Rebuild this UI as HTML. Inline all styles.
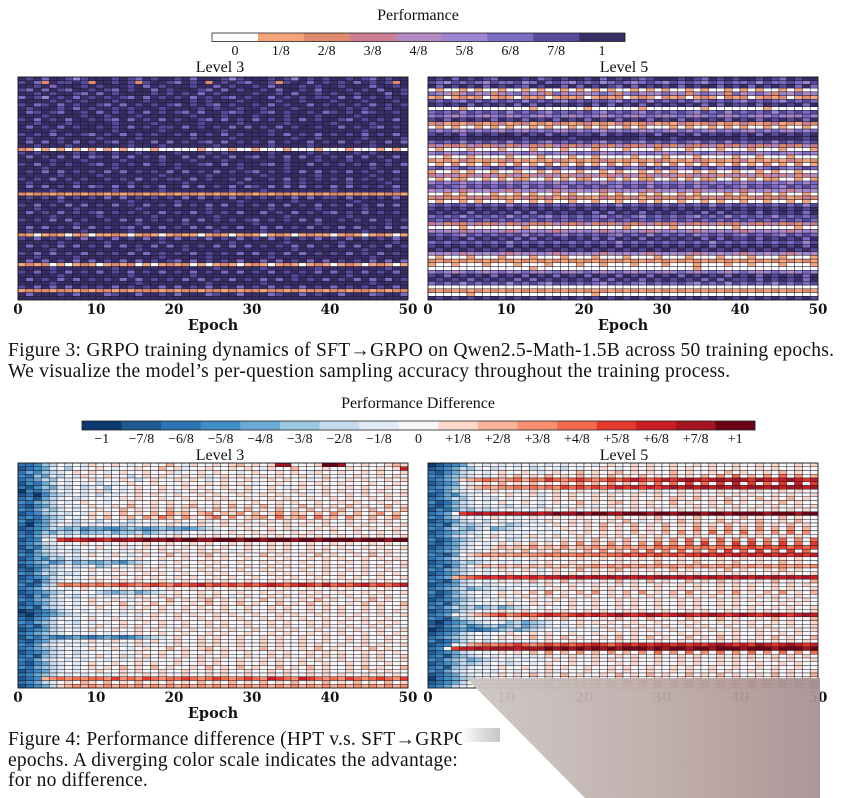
<!DOCTYPE html>
<html><head><meta charset="utf-8">
<style>
html,body{margin:0;padding:0;background:#fff;}
#wrap{position:relative;width:844px;height:798px;overflow:hidden;background:#fff;}
svg{position:absolute;left:0;top:0;}
.cap{position:absolute;left:8px;font-family:"Liberation Serif","DejaVu Serif",serif;font-size:19.5px;letter-spacing:0.25px;color:#111;white-space:nowrap;}
</style></head>
<body>
<div id="wrap">
<svg id="chart" width="844" height="798"></svg>
<div class="cap" style="top:340px">Figure 3: GRPO training dynamics of SFT→GRPO on Qwen2.5-Math-1.5B across 50 training epochs.</div>
<div class="cap" style="top:361px">We visualize the model’s per-question sampling accuracy throughout the training process.</div>
<div class="cap" style="top:729px">Figure 4: Performance difference (HPT v.s. SFT→GRPO</div>
<div class="cap" style="top:750px">epochs. A diverging color scale indicates the advantage:</div>
<div class="cap" style="top:770px">for no difference.</div>
<svg width="844" height="798">
<defs><linearGradient id="wm" x1="0" x2="1" y1="0" y2="0">
<stop offset="0" stop-color="#cdc7c4"/><stop offset="0.5" stop-color="#bfaeab"/><stop offset="0.8" stop-color="#b39c9b"/><stop offset="1" stop-color="#a89395"/></linearGradient>
<linearGradient id="sm" x1="0" x2="1" y1="0" y2="0"><stop offset="0" stop-color="#ffffff" stop-opacity="1"/><stop offset="1" stop-color="#9a9a9a" stop-opacity="0.8"/></linearGradient></defs>
<rect x="462" y="720" width="40" height="30" fill="#fff"/>
<rect x="462" y="728" width="38" height="14" fill="url(#sm)" opacity="0.7"/>
<polygon points="466,678 820,678 820,798 585,798 478,690" fill="url(#wm)" opacity="0.95"/>
</svg>
</div>
<script>
const perfTicks = ["0","1/8","2/8","3/8","4/8","5/8","6/8","7/8","1"];
const perfColors = ["#ffffff","#f4a67a","#e08a6e","#cb7e93","#b48ac2","#9c86d2","#7b6bc2","#564a9b","#392d67"];
const diffTicks = ["\u22121","\u22127/8","\u22126/8","\u22125/8","\u22124/8","\u22123/8","\u22122/8","\u22121/8","0","+1/8","+2/8","+3/8","+4/8","+5/8","+6/8","+7/8","+1"];
const diffColors = ["#0a3a6e","#1e5a91","#2d75b5","#3f8ec5","#6aaad5","#9bc8e1","#c5dcef","#e0ebf6","#f8f8f8","#fcd9cb","#f9b49a","#f8906f","#f36a4d","#e6392d","#c91c23","#a31420","#6a0013"];
const epochTicks = [0,10,20,30,40,50];
const nEpochs = 50;

const perfL3 = [
"8786887578 8878768788 7868887578 8878758787 8878768788","7862877872 8878727887 6878287876 8872788687 8786878728","8878688878 7888786878 8878868788 7868887878 8788868878","7686876887 8768788687 8887686878 8786887868 8878786887","8878788768 6878888787 8786878888 7887868878 7887888687","6875878687 8787686878 7868787687 8868787877 8686878788","8888787878 8878887888 8878788878 8887887888 7888788878","7867868788 7686878787 6878768788 7868788687 8787868787","8788878687 8878788878 8887878878 8788878888 8878788788","8678768878 6878786878 7686887678 8768788786 7878678878",
"8887888878 8788878888 8878887888 7888788878 8887888888","7868786887 8768687868 7887686878 6878786878 8768787868","8878887888 8878888788 8887888878 8888788888 7888878888","8687868788 7878687877 8687878686 8786878878 8687876878","8888788888 8878888878 8888887888 8878888888 8888788888","7878687876 8786878788 7868786878 8878687868 7878687868","8788878888 7888878888 8878888788 8888878878 8888788887","8686878687 8768788686 8787686878 7868788687 8687878686","8878887888 8888788878 8888878888 8878888788 8888878888","2101010101 0101000100 0001000100 1000100010 0010001010",
"7878888787 8878878888 7888787888 8878888787 8887878888","8687868686 7868687868 8686878687 6878686878 7868687868","8888788878 8887888878 8878887888 8888788878 8878888788","7868787887 6878786878 7887686878 8768788687 8787868786","8887888888 8878888888 7888888878 8888788888 8888878888","8786868787 8686878786 8687868787 6878786868 7868787868","8888878888 7888888878 8888788888 8788888878 8888878888","7878687878 8787868787 7868788786 8878687878 7868787878","8788888788 8888788888 8788888878 8888787888 8878888788","8686878686 7868687868 8686878686 7868686878 6868787868",
"8888788888 8878888878 8888888788 8788888888 7888888878","2122121212 2121221212 1221212122 1212212121 2212121221","8787868787 8686878787 8686878687 8787868687 7868787868","8888878888 8888788888 7888888878 8888878888 8887888888","7868786868 7868786878 6878686878 7868687868 7868786868","8878888788 8888878888 8888788888 8878888878 8888788888","8687868787 6878787868 7868787868 8687868787 6878687878","8888788888 7888888788 8888878888 8888788888 8878888888","7878686878 8786868787 8686878787 6878786868 8787868787","8888888788 8888878888 8788888888 7888888878 8888888788",
"8686878686 8787686868 7868687868 8686878687 8686878686","8788888878 8888788888 8888878888 8788888888 8888788888","2101210120 1121012101 2110121012 1012101211 0121012101","7868787868 7868786878 6878687868 7868787868 7868787868","8888878888 8788888878 8888888788 8888788888 8788888878","8687868687 8686878686 8787868686 8787868687 8686878687","8888788888 8888878888 8788888888 8888878888 8888788888","7868687868 7878686878 7868787868 6878686878 7868786878","8878888788 8888888878 8888788888 8878888888 8888878888","8686878686 8786868787 6868787868 8686878686 8787868686",
"1212010121 0121201012 1201012101 2101210121 0121012101","8888788888 8878888888 8888878888 8788888878 8888888788","7868786878 6878687868 7868786868 7868787868 6878687868","8888878888 8888788888 8878888888 8888878888 8878888888","8687868687 8786868787 8686878687 8686878786 8786868687","8888788888 8888878888 8888788888 8788888888 8888878888","7868686878 7868787868 6878687868 7868786878 6878787868","1222122121 2212122212 1221221212 2122121221 2212212122","8688878688 8678868878 6888678868 8867886878 8688867886","8888888888 8888888888 8888888888 8888888888 8888888888"];

const perfL5 = [
"8786878768 8878678788 7868787678 8878768787 8878768788","7657676576 6756867657 6756765676 5767657676 6757667657","8687878687 8768788686 8787686878 7868788687 8687878686","0100101001 0010100101 0101001010 1001010010 1010010100","6542464524 5645426454 4564256454 6452465426 4564254645","1201212012 1021201212 0121201210 2120121021 2012120121","7676576767 6757676576 7676576757 6767567676 5767657676","8787868787 8686878787 8686878687 8787868687 7868787868","0000100000 0001000000 1000000100 0000010000 0001000000","6767576767 5767657676 7657676576 7676576757 6767576767",
"5654565456 4565456545 6545654565 4565456545 6545654565","7868787868 7868786878 6878687868 7868787868 7868787868","2312132123 1231213212 3121321231 2132123121 3212312132","0101001010 1001010010 1010010100 0101001010 1001010010","6565465654 6546565465 6546565456 5465654656 5465654656","7878687878 8787868787 7868788786 8878687878 7868787878","8888788888 8878888878 8888888788 8788888888 7888888878","6767576767 5767657676 7657676576 7676576757 6767576767","3423243234 2342324323 4232432342 3243234232 4323423243","0100010001 0001000100 0100010001 0001000100 0100010001",
"5645654565 4564565456 5645654565 4564565456 5645654565","0010010000 1000100010 0100001000 1000100001 0010001000","2121321212 3121213212 1232121213 2121321212 3121213212","0102010201 0201020102 0102010201 0201020102 0102010201","6756765676 7656767567 6756765676 7656767567 6756765676","1001010010 0100101001 0010100101 0100101001 0010100100","3434234342 3423434234 3423434234 3423434234 3423434234","0101100101 0110010101 1001010110 0101011001 0101100101","5656465656 4656564656 5646565646 5656465656 4656564656","7676576767 6757676576 7676576757 6767567676 5767657676",
"4545345454 3454543454 5434545434 5454345454 3454543454","0010100010 0101001010 0010100101 0010100010 1001010010","2322132322 1232231232 2132223123 2232132322 1232231232","0100101000 1001010010 0100100101 0010010100 1001001010","6767676767 5767676767 6767576767 6767675767 6767676757","7878787878 7878787878 7878787878 7878787878 7878787878","8787868787 8686878787 8686878687 8787868687 7868787868","6767576767 5767657676 7657676576 7676576757 6767576767","7676767676 7676767676 7676767676 7676767676 7676767676","3423243234 2342324323 4232432342 3243234232 4323423243",
"0000100000 0010000000 0000010000 0100000001 0000000100","4545345454 3454543454 5434545434 5454345454 3454543454","7676576767 6757676576 7676576757 6767567676 5767657676","8787868787 8686878787 8686878687 8787868687 7868787868","6767676767 5767676767 6767576767 6767675767 6767676757","7878787878 6878787878 7878687878 7878786878 7878787868","8787878787 8787878787 8787878787 8787878787 8787878787","4545345454 3454543454 5434545434 5454345454 3454543454","0100010001 0001000100 0100010001 0001000100 0100010001","2121212121 2121212121 2121212121 2121212121 2121212121",
"1001000100 0100010001 0010001000 1000100010 0100010001","0000000000 0001000000 0000000000 0000100000 0000000000","5654565456 4565456545 6545654565 4565456545 6545654565","7868787868 7868786878 6878687868 7868787868 7868787868","8787868787 8686878787 8686878687 8787868687 7868787868","6767576767 5767657676 7657676576 7676576757 6767576767","0000000000 0000000000 0000000000 0000000000 0000000000","2121212121 2121212121 2121212121 2121212121 2121212121","0000010000 0000000000 0100000000 0000000000 0000000000","8787878787 8787878787 8787878787 8787878787 8787878787"];

const diffL3 = [
"CCDFG0H0H1 0010H01002 0H10010120 1017700018 8700100121","BCDEH0F0H0 10H0010020 1H00100101 0H10020001 0010001016","CEDFGH0101 0H01001001 H0010100H0 1001010H10 0100101001","DCFEHG0H10 0100G01010 0101H01010 0101001001 0H01001010","CDEGF0H001 H0010G0100 1010H01001 0010100H01 0010100101","BDCEG0H0H0 G0H0100100 0100101010 H001001010 0100010010","CBDFEHG0GH 0F0H010010 0101001001 0010H01001 0010100100","ADCEG0H0H0 1G0H010010 H010100101 0010010H01 0100101001","BCADFGH0H0 G0H0010100 1001010010 0101001001 0010100101","CDBEGH0GH0 0H01010010 0100101001 0010100100 1010010100",
"DCEFG0H010 0H00100101 0010010100 1001010010 0101001010","CBDEGH0H01 0010200101 0120010201 0201002010 1020100201","DCEGFH0H00 1002010102 0101020102 0102010201 0201020102","BCDFGHG0H1 0102010203 1202302130 2013021020 3102013020","CDCEFG0H01 0201203142 0310240301 2304123041 2031020130","DBCEGH0GH0 G0H0GH0H00 1001H01001 0010100101 0010010100","CADEG0HG0H 0H0GH00H01 0H01001010 0100101001 0010100101","BCDEGFEFDE EDDEFEDEFE EDEFGH0H01 00101H0010 1001010010","CBDFEGFGEF FGEFFGEFGH GH0H0H0100 1010010100 1001001010","DCEGH0H0H0 0H0H01H000 1001010010 0101001010 0100101001",
"BCD0H56567 6577678778 7887788878 8788878878 8887888788","CDEGH0H010 0H01001001 0010100101 0010100100 1010010100","BDCFGH0H00 1001H01010 0101001001 0010100101 0100101001","CBEGH0HG0H 0H0H010010 1001010H01 0010100101 0010010100","DCEFGH0H01 0010H01002 0101201010 0201001020 1001020100","BCEDGFHGH0 0H0H010010 0100101001 0010100101 0100101010","CDEFDEGEFE EFEDFGH0H0 1001010010 0101001001 0010100101","BCDEGH0GH0 FG0H010010 0100101001 0010100101 0100101001","CBDFGH0H01 0010010100 1001010010 0101001001 0010100100","DCEGFHGH0H 0H01001010 0100101001 0010100101 0100101010",
"BCDEGH0H01 0010010100 1010010100 1001010010 0101001001","CDBEGH0H00 1001010010 0100101001 0010100101 0010010100","DBCFG34343 4345434543 5456454545 4565456546 4545645456","CDEGH0H010 0H01001001 0010100101 0010100100 1010010100","BCDEFG0H00 GFEFGEFGH0 1001010010 0101001010 0100101001","CBEDG0HG0H 0H0H010010 1001010H01 0010100101 0010010100","DCEFGH0H01 0010H01002 0101201010 0201001020 1001020100","BCDEGH0H01 0102010201 0010201020 1002010201 0010201002","CDBFGH0H00 1001H01010 0101001001 0010100101 0100101001","ABCDEGH0H0 0H0H010010 0100101001 0010100101 0100101010",
"BACDEFGH0H 0H0H0H0100 1010010100 1001010010 0101001001","CBDEGH0H01 0010010100 1001010010 0101001001 0010100100","DCEFG0HG0H 0H01001010 0100101001 0010100101 0100101010","CDBEGH0H00 1001010010 0100101001 0010100101 0010010100","BCDEGH0H01 0010010100 1010010100 1001010010 0101001001","CDEFGH0H0H 0H0H010010 0100101001 0010100101 0100101010","BDCEDCDEDC DEDCDEFGH0 1001010010 0101001001 0010100101","CBDEGH0H01 0010010100 1001010010 0101001001 0010100100","DCEGH0H0H0 0H0H01H000 1001010010 0101001010 0100101001","CDEFGH0H01 0010H01002 0101201010 0201001020 1001020100",
"BCDEGH0GH0 0H0H010010 0100101001 0010100101 0100101010","CDBFGH0H00 1001H01010 0101001001 0010100101 0100101001","DCEGH0H0H0 0H0H01H000 1001010010 0101001010 0100101001","CBDEGH0H01 0010010100 1001010010 0101001001 0010100100","DCEFGH0H01 0102010201 0010201020 1002010201 0010201002","BCDEGH0H00 1001010010 0100101001 0010100101 0010010100","CDEFG0H0H0 0H01001010 0100101001 0010100101 0100101010","BCD2343434 4353435434 4543454345 4365436543 4354345435","CDEGH01021 0201020102 0102010201 0201020102 0102010201","BCDEG12323 2323232323 2323232323 2323232323 2323232323"];

const diffL5 = [
"ABCDEH0H0H 0H0H0H0H00 0H01001010 0100101001 0010100101","BCDEGFH0GH 0H0GH0HG0H 0010H01010 0101001001 0010100100","CBDEGH0H01 0010H01002 0101201010 0201001020 1001020100","DCEFGH0H01 0201020102 0102010201 0201020304 0203040302","CDEF123432 3424354345 4345456545 6567656767 6576567656","BCDE0H0102 0102010203 0203020304 0405040506 0504050605","CDEFH12323 3434343545 4545656565 6767676767 6776767767","DCEGH0H010 0H01001001 0010100101 0010100100 1010010100","BCEDGH0H00 1001H01010 0101001001 0010100101 0100101001","CDEGFH0HG0 H0H0H01010 0101001001 0210201020 1020102010",
"DBCEGH0H01 0010H01002 0101201010 0201001020 1001020100","CBDFGH0H0H G0H0G00H01 0H01001010 0100101001 0010100101","BDCEGFHGH0 0H0H010010 0100101001 0010100101 0100101010","CDE0567676 7677678778 7887788878 8788878878 8887888788","DCEGH0H010 0H01001001 0010200102 0010200100 2010020100","BCDEGH0G0H 0H0H010010 1001020H01 0020100201 0020010200","CDBFGFGH0H FGH0H01010 1020102010 2010201020 1020102010","DCEGFEGHEF GH0H0H0100 1020102010 2010302030 2030203020","BCDEFGH0H0 H0H0H0H010 1010102010 2030204030 4020304030","CDEGH0H010 0H01001001 0010100101 0010100100 1010010100",
"DBCEFGH0H0 GH0H0H0101 0201020102 0304030403 0403040304","CBDEGH0H01 0102010203 0203020304 0304050405 0504050405","BCDEGH0H12 1213121312 2323232324 3434343435 4545454545","CDEFH0H010 1020102010 2030203040 3040304050 4050405040","DCBE012323 2323343434 3434454545 4545565656 5656565656","CDEGH0H010 0H01001001 0010100101 0010100100 1010010100","BCDEGFGH0H 0H0H010010 0100101002 0010200102 0010020100","CDBEG01212 1212121212 2323232323 2323232323 2323232323","DCEFGH0H01 0010H01002 0101201010 0201001020 1001020100","BCDEGH0H00 1001H01010 0101001001 0010100101 0100101001",
"CDE2345656 5656566767 6767676767 7676767676 7676767676","DCBEGH0H01 0102010201 0010201020 1002010201 0010201002","BCDEGH0GH0 0H0H010010 0100101001 0010100101 0100101010","CDEFGEFGHG H0H0H01010 0101001001 0010100101 0100101001","DBCEGH0H01 0102030102 0301020301 0203010203 0102030102","CBDFGH0H01 0010010100 1001010010 0101001001 0010100100","BCDEFGH0H0 0H01001010 0100101001 0010100101 0100101010","CDBEGH0H00 1001010010 0100101001 0010100101 0010010100","DCEGFGEFGE FGH0H0H010 0100101001 0010100101 0100101001","BCDEGH0H01 0010010100 1010010100 1001010010 0101001001",
"CDE0H12345 3454565456 5656765676 5676567656 7656765676","DCBEGH0H01 0102010201 0010201020 1002010201 0010201002","BACDEFGH0H FGEFGH0H01 0101001001 0010100101 0100101001","CBDEFDEFGE FGEFGH0H01 0010010100 1001010010 0101001001","ABCDEDCDEF GEFGH0H0H0 0H01001010 0100101001 0010100101","BCDEGH0H00 1001010010 0100101001 0010100101 0010010100","CDEFGH0H01 0102010201 0010201020 1002010201 0010201002","DBCEGH0G0H 0H0H010010 0100101001 0010100101 0100101010","BCD0H23434 4543454545 5654565656 6565656765 6576567656","CD05667677 7677787878 7878788878 7887887888 7888788878",
"BCDEGH0H01 0102030203 0203020304 0304030403 0403040304","CDBEFGH0H0 0H0H010010 0100101001 0010100101 0100101010","DCEFGEFGH0 H0H0H01010 0101001001 0010100101 0100101001","BCDEGFGH0H GH0H010010 0100101001 0010100101 0010010100","CDBFGH0H01 0010010100 1001010010 0101001001 0010100100","DCEGH0H0H0 0H0H01H000 1001010010 0101001010 0100101001","BCDEGH0H01 0102010201 0010201020 1002010201 0010201002","ACDEFGH0H0 0H0H010010 0100101001 0010100101 0100101010","BCDEG0H010 0H01020102 0304050607 0607060706 0706070607","CDEGH0H012 0102030203 0203020304 0304030403 0403040304"];

const NS = "http://www.w3.org/2000/svg";
const svg = document.getElementById("chart");
function mk(tag, attrs, parent){
  const e = document.createElementNS(NS, tag);
  for (const k in attrs) e.setAttribute(k, attrs[k]);
  (parent || svg).appendChild(e);
  return e;
}
const NEG = "ABCDEFGH";
function perfIndex(ch){ return parseInt(ch, 10) || 0; }
function diffIndex(ch){
  const n = NEG.indexOf(ch);
  if (n >= 0) return n;
  return 8 + (parseInt(ch, 10) || 0);
}
function parseRows(rows, idxFn){
  return rows.map(r => {
    const s = r.replace(/ /g, "");
    const out = [];
    for (let i = 0; i < nEpochs; i++) out.push(idxFn(s[i] || "0"));
    return out;
  });
}

function text(x, y, str, size, anchor, family, name, weight){
  const t = mk("text", {x:x, y:y, "font-size":size, "text-anchor":anchor||"middle",
    "font-family":family, fill:"#111", "font-weight":weight||"normal"});
  
  
  t.textContent = str;
  return t;
}
const TFONT = "'Liberation Serif','DejaVu Serif',serif";
const AFONT = "'DejaVu Serif','Liberation Serif',serif";

function colorbar(x0, x1, y0, h, colors, ticks, ty, name){
  const g = mk("g", {});
  
  
  const w = (x1 - x0) / colors.length;
  colors.forEach((c, i) => {
    const r = mk("rect", {x:x0 + i*w, y:y0, width:w + 0.3, height:h, fill:c}, g);
    
    
  });
  mk("rect", {x:x0, y:y0, width:x1 - x0, height:h, fill:"none", stroke:"#222", "stroke-width":0.8}, g);
  ticks.forEach((t, i) => {
    text(x0 + (i + 0.5)*w, ty, t, 14, "middle", TFONT, "colorbar-tick-label");
  });
}

function heatmap(x0, y0, x1, y1, rows, colors, name, xTicksY, showEpoch){
  const g = mk("g", {});
  
  
  const xs = d => x0 + d / nEpochs * (x1 - x0);
  const nr = rows.length;
  const ys = r => y0 + r / nr * (y1 - y0);
  rows.forEach((row, r) => {
    row.forEach((v, c) => {
      const rc = mk("rect", {x:xs(c), y:ys(r), width:xs(c+1)-xs(c), height:ys(r+1)-ys(r),
        fill:colors[v], stroke:"#1a1626", "stroke-width":0.45}, g);
      
      
    });
  });
  mk("rect", {x:x0, y:y0, width:x1-x0, height:y1-y0, fill:"none", stroke:"#111", "stroke-width":0.8}, g);
  epochTicks.forEach(t => {
    text(xs(t), xTicksY, String(t), 13.5, "middle", AFONT, "x-tick-label", "bold");
  });
  if (showEpoch) text((x0+x1)/2, xTicksY + 16, "Epoch", 14.5, "middle", AFONT, "x-axis-title", "bold");
}

text(418, 20, "Performance", 16, "middle", TFONT, "colorbar-title-performance");
colorbar(212, 625, 33, 8.5, perfColors, perfTicks, 55, "performance-colorbar");
text(220, 72, "Level 3", 16, "middle", TFONT, "panel-title-level3-top");
text(624, 72, "Level 5", 16, "middle", TFONT, "panel-title-level5-top");
heatmap(18, 77, 408, 300, parseRows(perfL3, perfIndex), perfColors, "heatmap-perf-level3", 314, true);
heatmap(428, 77, 818, 300, parseRows(perfL5, perfIndex), perfColors, "heatmap-perf-level5", 314, true);

text(418, 408, "Performance Difference", 16, "middle", TFONT, "colorbar-title-difference");
colorbar(82, 755, 421, 9, diffColors, diffTicks, 443, "difference-colorbar");
text(220, 460, "Level 3", 16, "middle", TFONT, "panel-title-level3-bottom");
text(624, 460, "Level 5", 16, "middle", TFONT, "panel-title-level5-bottom");
heatmap(18, 463, 408, 688, parseRows(diffL3, diffIndex), diffColors, "heatmap-diff-level3", 702, true);
heatmap(428, 463, 818, 688, parseRows(diffL5, diffIndex), diffColors, "heatmap-diff-level5", 702, false);
</script>
</body></html>
